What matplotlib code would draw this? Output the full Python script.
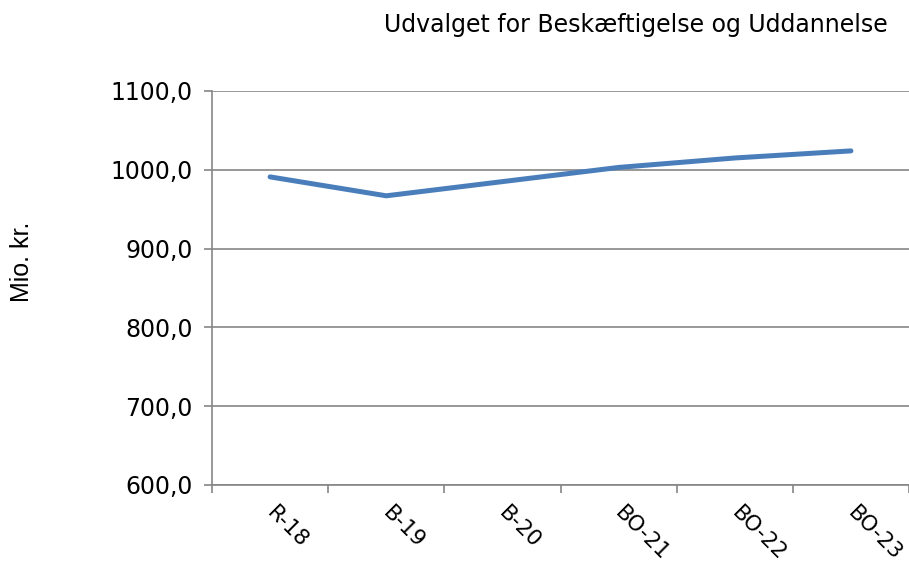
import matplotlib
matplotlib.use("Agg")
import matplotlib.pyplot as plt
from matplotlib.ticker import FuncFormatter
from matplotlib.transforms import ScaledTranslation

categories = ["R-18", "B-19", "B-20", "BO-21", "BO-22", "BO-23"]
values = [991.0, 967.0, 985.0, 1003.0, 1015.0, 1024.0]
yticks = [600, 700, 800, 900, 1000, 1100]
title = "Udvalget for Beskæftigelse og Uddannelse"
ylabel = "Mio. kr."

fig = plt.figure(figsize=(9.09, 5.63), dpi=100)
ax = fig.add_axes([212/909, 78/563, 697/909, 394/563])

x = list(range(len(categories)))
ax.plot(x, values, color="#4a7ebb", linewidth=3.6, solid_capstyle="round", solid_joinstyle="round", zorder=3)

ax.set_xlim(-0.5, len(categories) - 0.5)
ax.set_ylim(600, 1100)
ax.set_yticks(yticks)
ax.yaxis.set_major_formatter(FuncFormatter(lambda v, p: f"{v:.1f}".replace(".", ",")))
ax.grid(axis="y", color="#868686", linewidth=1.2, zorder=1)
ax.set_axisbelow(True)

for s in ["top", "right"]:
    ax.spines[s].set_visible(False)
for s in ["left", "bottom"]:
    ax.spines[s].set_color("#868686")
    ax.spines[s].set_linewidth(1.2)

ax.tick_params(axis="y", length=6, width=1.2, color="#868686", labelsize=17, pad=8)
ax.set_xticks([i + 0.5 for i in range(-1, len(categories))], minor=False)
ax.set_xticklabels([])
ax.tick_params(axis="x", which="major", length=6, width=1.2, color="#868686")
ax.set_xticks(x, minor=True)
ax.set_xticklabels(categories, minor=True, rotation=-45, ha="left", va="top", rotation_mode="anchor", fontsize=15.5)
ax.tick_params(axis="x", which="minor", length=0, pad=13)
off = ScaledTranslation(7/100, 0, fig.dpi_scale_trans)
for lab in ax.get_xticklabels(minor=True):
    lab.set_transform(lab.get_transform() + off)

fig.text(888/909, 1 - 25/563, title, ha="right", va="center", fontsize=17)
fig.text(22/909, 1 - 262/563, ylabel, ha="center", va="center", rotation=90, fontsize=18, family="Liberation Sans")

fig.savefig("out.png", dpi=100)
